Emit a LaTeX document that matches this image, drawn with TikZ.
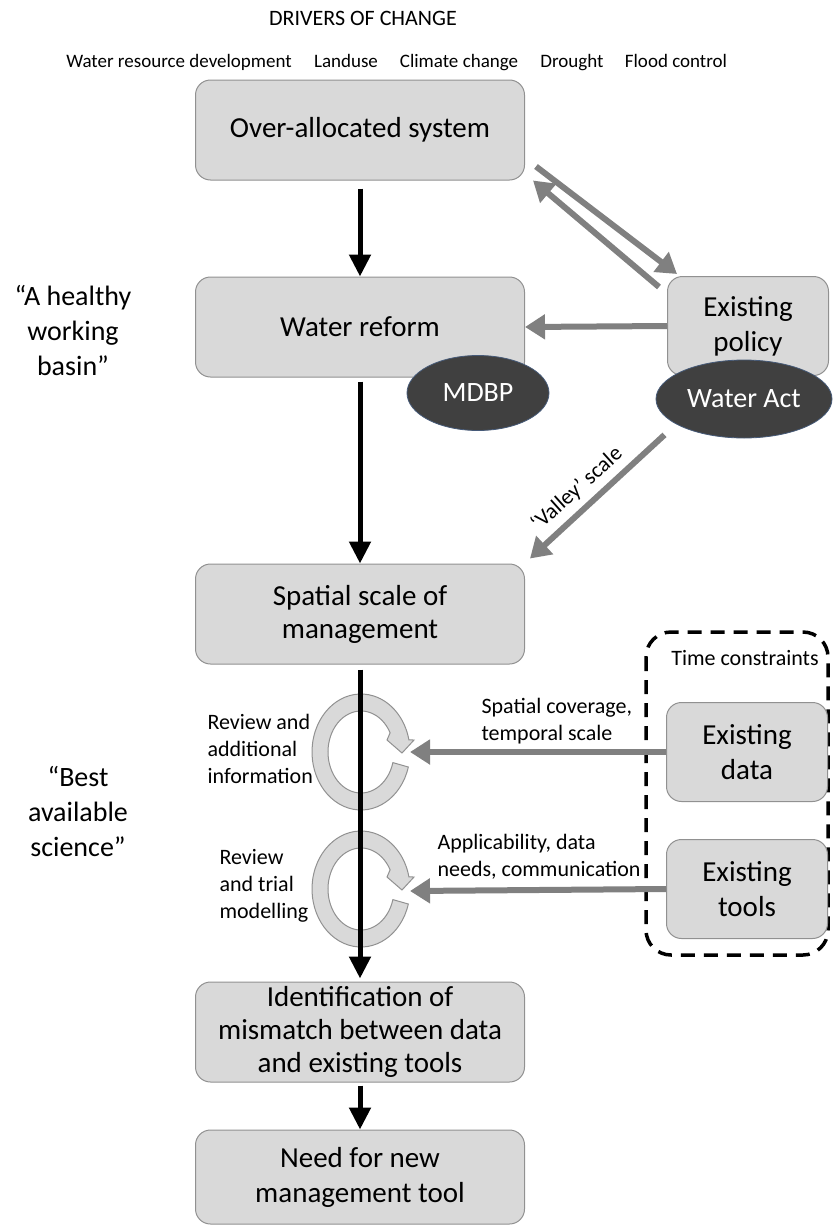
\documentclass[tikz,border=0pt]{standalone}
\usepackage{fontspec}
\setmainfont{Carlito}
\usetikzlibrary{positioning,calc,shapes.geometric,arrows.meta}
\definecolor{boxfill}{RGB}{217,217,217}
\definecolor{boxline}{RGB}{145,145,145}
\definecolor{linkgray}{RGB}{128,128,128}
\definecolor{ovalfill}{RGB}{64,64,64}
\definecolor{ovalline}{RGB}{70,90,120}
\tikzset{
    flowchart/.style={
        x=1pt, y=-1pt,
        % main steps (rounded boxes)
        stepbox/.style={draw=boxline, fill=boxfill, rounded corners=15pt,
                        line width=1pt, align=center,
                        minimum width=329pt, minimum height=100pt,
                        font=\fontsize{29}{33}\selectfont},
        % boxes on the right
        sidebox/.style={stepbox, minimum width=161pt, minimum height=99pt,
                        font=\fontsize{29}{35}\selectfont},
        % dark ovals
        oval/.style={draw=ovalline, fill=ovalfill, ellipse, text=white,
                     inner sep=0pt, line width=0.8pt,
                     font=\fontsize{28}{32}\selectfont},
        % texts
        quotetext/.style={align=center, font=\fontsize{28}{35}\selectfont},
        smalltext/.style={align=left, font=\fontsize{22}{27}\selectfont},
        drivertext/.style={font=\fontsize{19}{22}\selectfont,
                           text height=13pt, text depth=4pt},
        % connectors
        mainflow/.style={draw=black, line width=5pt,
                         -{Triangle[width=21pt,length=22pt]}},
        feed/.style={draw=linkgray, line width=6pt,
                     -{Triangle[width=24pt,length=20pt]}},
        cyclearrow/.style={draw=boxline, fill=boxfill, line width=1pt}
    }
}

\begin{document}
\begin{tikzpicture}[flowchart]
    \useasboundingbox (0,0) rectangle (834,1226);

    % drivers
    \node[drivertext, font=\fontsize{22}{26}\selectfont] (drivers) at (363,21) {DRIVERS OF CHANGE};
    \node[drivertext] (wrd) at (179,63) {Water resource development};
    \node[drivertext] (landuse) at (346,63) {Landuse};
    \node[drivertext] (climate) at (459,63) {Climate change};
    \node[drivertext] (drought) at (572,63) {Drought};
    \node[drivertext] (flood) at (676,63) {Flood control};

    % main column
    \node[stepbox] (over) at (360,130) {Over-allocated system};
    \node[stepbox] (reform) at (360,327) {Water reform};
    \node[stepbox] (spatial) at (360,614) {Spatial scale of\\management};
    \node[stepbox] (ident) at (360,1032) {Identification of\\mismatch between data\\and existing tools};
    \node[stepbox, minimum height=94pt, font=\fontsize{29}{35}\selectfont] (need) at (360,1177) {Need for new\\management tool};

    % right column
    \node[sidebox] (policy) at (748,326) {Existing\\policy};
    \node[oval, minimum width=142pt, minimum height=75pt] (mdbp) at (478,393) {MDBP};
    \node[oval, minimum width=176pt, minimum height=78pt] (act) at (744,399) {Water Act};

    \draw[line width=3.5pt, dash pattern=on 14pt off 9pt, rounded corners=25pt]
        (646,632) rectangle (828,955);
    \node[smalltext] (time) at (745,658) {Time constraints};
    \node[sidebox] (data) at (747,752) {Existing\\data};
    \node[sidebox] (tools) at (747,889) {Existing\\tools};

    % left quotes
    \node[quotetext] (healthy) at (73,331) {“A healthy\\working\\basin”};
    \node[quotetext] (science) at (78,811) {“Best\\available\\science”};

    % review loops
    \coordinate (cycA) at (361,752);
    \coordinate (cycB) at (361,889);
    \foreach \c in {cycA,cycB}{
        \begin{scope}[shift={(\c)}]
            \filldraw[cyclearrow] (15:49 and 58)
                arc[start angle=15, end angle=348, x radius=49, y radius=58]
                -- (53,-12) -- (41,1) -- (26,-12) -- (332:33 and 41)
                arc[start angle=332, end angle=15, x radius=33, y radius=41]
                -- cycle;
        \end{scope}
    }
    \node[smalltext, anchor=west] (reviewA) at (204,749) {Review and\\additional\\information};
    \node[smalltext, anchor=west] (reviewB) at (216,886) {Review\\and trial\\modelling};

    % black flow
    \draw[mainflow, shorten <=8pt] (over) -- (reform);
    \draw[mainflow, shorten <=4pt] (reform) -- (spatial);
    \draw[mainflow, shorten <=5pt, shorten >=3pt] (spatial) -- (ident);
    \draw[mainflow, shorten <=3pt] (ident) -- (need);

    % grey links
    \draw[feed] ([shift={(11,-14)}]over.south east) -- ([shift={(10,-2)}]policy.north west);
    \draw[feed] ([shift={(-8,11)}]policy.north west) -- ([shift={(8,0)}]over.south east);
    \draw[feed] (policy.west) -- (reform.east);
    \draw[feed] ([shift={(-17,8)}]act.south west) -- ([shift={(5,-5)}]spatial.north east);
    \node[font=\fontsize{22}{26}\selectfont, rotate=42] (valley) at (577,489) {‘Valley’ scale};

    \coordinate (hitA) at (410,752);
    \coordinate (hitB) at (410,891);
    \draw[feed] (data.west) -- (hitA);
    \draw[feed] (tools.west) -- (hitB);
    \node[smalltext, anchor=west] (coverage) at (478,721) {Spatial coverage,\\temporal scale};
    \node[smalltext, anchor=west] (applic) at (434,857) {Applicability, data\\needs, communication};
\end{tikzpicture}
\end{document}
